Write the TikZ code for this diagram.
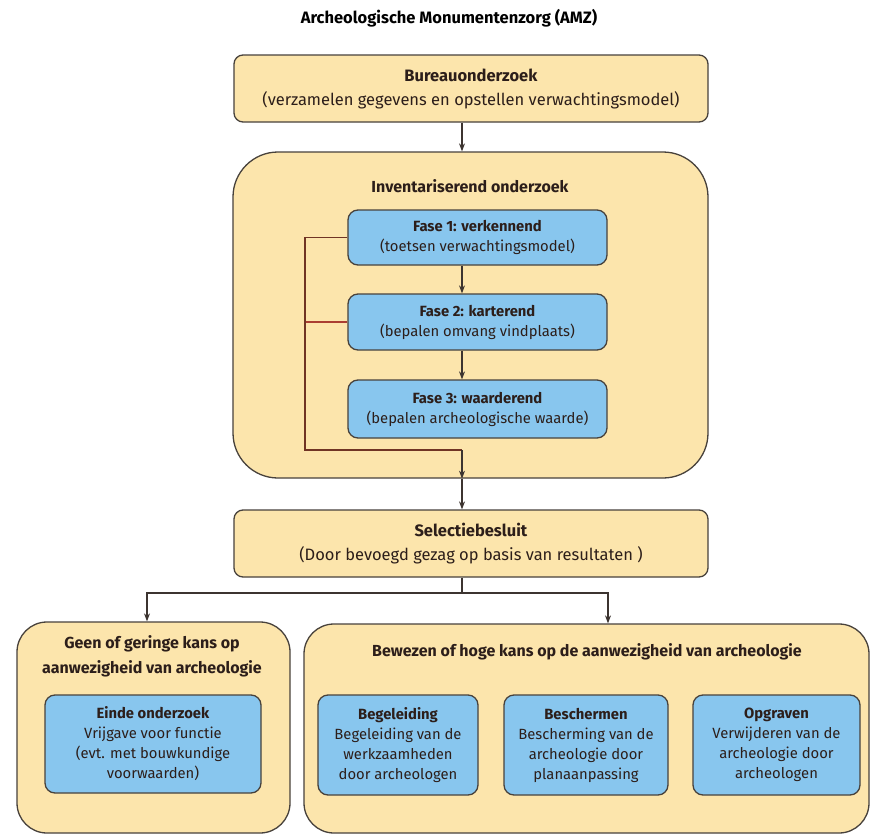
\documentclass[tikz,border=0pt]{standalone}
\usepackage{fontspec}
\setmainfont{Fira Sans}
\usetikzlibrary{arrows.meta}
\definecolor{boxyellow}{RGB}{252,229,172}
\definecolor{boxblue}{RGB}{136,198,238}
\definecolor{bordercol}{RGB}{72,66,60}
\definecolor{textcol}{RGB}{44,30,26}
\definecolor{arrowcol}{RGB}{60,52,48}
\definecolor{loopbrown}{RGB}{112,52,36}
\definecolor{loopred}{RGB}{170,62,50}
\begin{document}
\begin{tikzpicture}[x=1pt,y=-1pt,
  ybox/.style={draw=bordercol, line width=1.3pt, fill=boxyellow, rounded corners=9pt, inner sep=0pt},
  bbox/.style={draw=bordercol, line width=1.3pt, fill=boxblue, rounded corners=10pt, inner sep=0pt},
  bigtxt/.style={text=textcol, align=center, font=\fontsize{16.5}{24}\selectfont},
  smalltxt/.style={text=textcol, align=center, font=\fontsize{14.8}{20}\selectfont},
  arr/.style={-{Stealth[length=8pt,width=6pt]}, line width=1.1pt, draw=arrowcol},
  plainline/.style={line width=1.1pt, draw=arrowcol},
  brownline/.style={line width=1.3pt, draw=loopbrown},
  redline/.style={line width=1.3pt, draw=loopred}]
\useasboundingbox (0,0) rectangle (871,835);
\fill[white] (0,0) rectangle (871,835);

% title
\node[text=black, font=\bfseries\fontsize{16.5}{20}\selectfont] (title) at (449,18) {Archeologische Monumentenzorg (AMZ)};

% Bureauonderzoek
\node[ybox, bigtxt, minimum width=474pt, minimum height=67pt] (bureau) at (471,88.5)
  {\textbf{Bureauonderzoek}\\(verzamelen gegevens en opstellen verwachtingsmodel)};

% Inventariserend onderzoek container
\node[ybox, rounded corners=45pt, minimum width=475pt, minimum height=326pt] (inv) at (470.5,315) {};
\node[text=textcol, font=\bfseries\fontsize{16}{20}\selectfont] (invtitle) at (470,186) {Inventariserend onderzoek};

\node[bbox, smalltxt, minimum width=259pt, minimum height=55pt] (fase1) at (477.5,237.5)
  {\textbf{Fase 1: verkennend}\\(toetsen verwachtingsmodel)};
\node[bbox, smalltxt, minimum width=259pt, minimum height=56pt] (fase2) at (477.5,322)
  {\textbf{Fase 2: karterend}\\(bepalen omvang vindplaats)};
\node[bbox, smalltxt, minimum width=259pt, minimum height=58pt] (fase3) at (477.5,409)
  {\textbf{Fase 3: waarderend}\\(bepalen archeologische waarde)};

% Selectiebesluit
\node[ybox, bigtxt, minimum width=474pt, minimum height=67pt] (sel) at (471,543.5)
  {\textbf{Selectiebesluit}\\(Door bevoegd gezag op basis van resultaten )};

% left container
\node[ybox, rounded corners=30pt, minimum width=273pt, minimum height=211pt] (lb) at (153.5,727.5) {};
\node[bigtxt, font=\bfseries\fontsize{16}{25}\selectfont] (lbtitle) at (152,656)
  {Geen of geringe kans op\\aanwezigheid van archeologie};
\node[bbox, smalltxt, minimum width=216pt, minimum height=98pt] (einde) at (153,744)
  {\textbf{Einde onderzoek}\\Vrijgave voor functie\\(evt. met bouwkundige\\voorwaarden)};

% right container
\node[ybox, rounded corners=30pt, minimum width=565pt, minimum height=209pt] (rb) at (586.5,728.5) {};
\node[text=textcol, font=\bfseries\fontsize{16}{20}\selectfont] (rbtitle) at (587,652)
  {Bewezen of hoge kans op de aanwezigheid van archeologie};
\node[bbox, smalltxt, minimum width=160pt, minimum height=100pt] (beg) at (398,745)
  {\textbf{Begeleiding}\\Begeleiding van de\\werkzaamheden\\door archeologen};
\node[bbox, smalltxt, minimum width=164pt, minimum height=100pt] (bes) at (586,745)
  {\textbf{Beschermen}\\Bescherming van de\\archeologie door\\planaanpassing};
\node[bbox, smalltxt, minimum width=167pt, minimum height=100pt] (opg) at (776.5,745)
  {\textbf{Opgraven}\\Verwijderen van de\\archeologie door\\archeologen};

% connectors
\coordinate (spine) at (462,0);
\coordinate (loopx) at (305,0);
\coordinate (loopy) at (0,450);
\coordinate (branchy) at (0,593);
\coordinate (lx) at (147,0);
\coordinate (rx) at (608,0);

\draw[arr] (bureau.south -| spine) -- (inv.north -| spine);
\draw[arr] (fase1.south -| spine) -- (fase2.north -| spine);
\draw[arr] (fase2.south -| spine) -- (fase3.north -| spine);
\draw[redline] (fase2.west) -- (fase2.west -| loopx);
\draw[brownline] (fase1.west) -- (fase1.west -| loopx) -- (loopx |- loopy) -- (spine |- loopy);
\draw[arr] (spine |- loopy) -- (inv.south -| spine);
\draw[arr] (inv.south -| spine) -- (sel.north -| spine);
\draw[plainline] (sel.south -| spine) -- (spine |- branchy);
\draw[arr] (spine |- branchy) -| (lb.north -| lx);
\draw[arr] (spine |- branchy) -| (rb.north -| rx);
\end{tikzpicture}
\end{document}
